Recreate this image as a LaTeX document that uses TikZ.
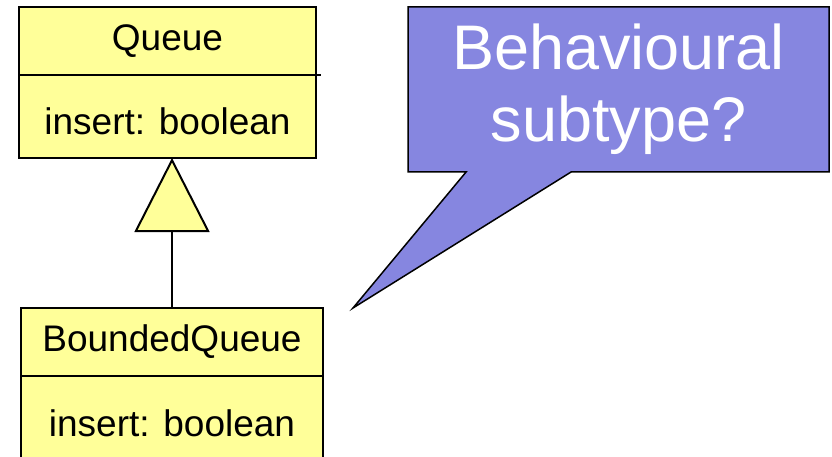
\documentclass[tikz,border=0pt]{standalone}
\usepackage{fontspec}
\setmainfont{Liberation Sans}
\usepackage{xcolor}
\usepackage{tikz}
\usetikzlibrary{shapes.callouts, arrows.meta, positioning}
\definecolor{classyellow}{RGB}{255,255,153}
\definecolor{notepurple}{RGB}{134,134,224}
\tikzstyle{classname} = [rectangle, draw=black, line width=2pt, fill=classyellow, minimum height=68pt, inner sep=0pt, outer sep=0pt, font=\fontsize{37}{44}\selectfont]
\tikzstyle{classattr} = [classname, minimum height=83pt, text height=37pt, text depth=0pt]
\tikzstyle{note} = [rectangle callout, draw=black, line width=1.5pt, fill=notepurple, text=white, minimum width=421pt, minimum height=165pt, inner sep=0pt, align=center, callout pointer width=105pt, font=\fontsize{63}{72}\selectfont]
\tikzstyle{inherit} = [line width=2pt, -{Triangle[length=74pt, width=75pt, fill=classyellow]}]

\begin{document}
\begin{tikzpicture}[x=1pt, y=-1pt]
    \useasboundingbox (0,0) rectangle (832,457);
    % Nodes
    \node [classname, minimum width=297pt] (queue_name) at (167.5,41) {Queue};
    \node [classattr, minimum width=297pt, below=0pt of queue_name] (queue_attr) {insert: boolean};
    \node [classname, minimum width=302pt] (bq_name) at (172,342) {BoundedQueue};
    \node [classattr, minimum width=302pt, below=0pt of bq_name] (bq_attr) {insert: boolean};
    \draw [line width=2pt] (queue_name.south east) -- ++(5,0);

    \coordinate (tip) at (353,308);
    \node [note, callout absolute pointer={(tip)}] (question) at (618.5,89.5) {Behavioural\\subtype?};

    % Arrows
    \draw [inherit] (bq_name.north) -- (bq_name.north |- queue_attr.south);
\end{tikzpicture}
\end{document}
